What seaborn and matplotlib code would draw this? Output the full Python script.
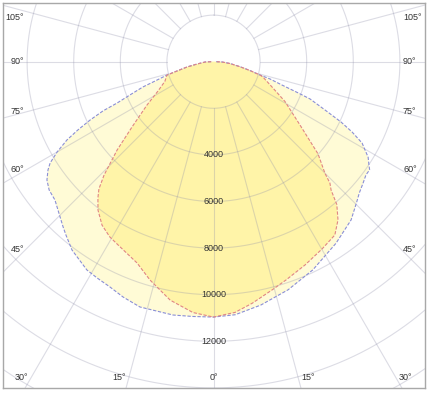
import numpy as np
import pandas as pd
import matplotlib
matplotlib.use("Agg")
import matplotlib.pyplot as plt
import seaborn as sns

# ---- data (angle in degrees from nadir, intensity) ----
outer_left_ang = [0, 4.6, 9.1, 16.7, 21.0, 24.7, 28.3, 31.3, 34.6, 36.9, 40.4, 42.3, 46.4, 48.9,
                  52.0, 54.6, 56.8, 58.2, 60.0, 61.9, 63.3, 64.7, 66.0, 66.8, 68.3, 70.3, 71.7,
                  74.0, 75.7, 78.7, 82.0, 88.0, 90.0]
outer_left_val = [10960, 10970, 11010, 10990, 10820, 10640, 10540, 10460, 10240, 10110, 9770,
                  9590, 9220, 9030, 8950, 8770, 8490, 8250, 7750, 7130, 6510, 5860, 5190, 4500,
                  3860, 3220, 2640, 2080, 1620, 1160, 710, 360, 100]
outer_right_ang = [0, 4.9, 11.0, 18.1, 25.5, 34.0, 41.0, 45.4, 48.0, 50.9, 53.4, 55.3, 56.4,
                   58.3, 61.3, 63.1, 64.7, 66.6, 68.9, 69.8, 71.2, 73.0, 74.0, 76.4, 79.3, 83.8,
                   88.0, 90.0]
outer_right_val = [10960, 10900, 10640, 10300, 9900, 9400, 9000, 8620, 8420, 8270, 8150, 8150,
                   8010, 7800, 7270, 6670, 6050, 5210, 4440, 3850, 3100, 2540, 2080, 1610, 1160,
                   710, 370, 100]
inner_left_ang = [0, 4.7, 10.3, 16.2, 20.8, 26.8, 30.6, 34.3, 37.9, 40.3, 42.0, 44.0, 47.5,
                  51.3, 56.9, 62.2, 68.0, 74.0, 75.7, 78.7, 82.0, 88.0, 90.0]
inner_left_val = [10960, 10800, 10400, 9760, 9240, 8900, 8740, 8490, 8070, 7670, 7350, 6760,
                  5610, 4480, 3410, 2690, 2250, 2080, 1620, 1160, 710, 360, 100]
inner_right_ang = [0, 2.1, 4.9, 9.1, 14.6, 18.4, 24.2, 30.1, 35.0, 38.2, 40.8, 42.5, 43.8,
                   45.0, 48.6, 53.8, 60.9, 66.5, 72.8, 74.0, 76.4, 79.3, 83.8, 88.0, 90.0]
inner_right_val = [10960, 10880, 10800, 10500, 10100, 9870, 9570, 9290, 9080, 8640, 8100, 7470,
                   7220, 6760, 5980, 4600, 3510, 2750, 2220, 2080, 1610, 1160, 710, 370, 100]

ring_values = [2000, 4000, 6000, 8000, 10000, 12000, 14000, 16000, 18000, 20000]
ring_labels = ["4000", "6000", "8000", "10000", "12000"]
spoke_angles = list(range(0, 360, 15))
side_labels = [45, 60, 75, 90, 105]
bottom_labels = [0, 15, 30]

sns.set_theme(style="white")
plt.rcParams["font.family"] = ["Liberation Sans", "DejaVu Sans"]


def to_xy(la, lv, ra, rv):
    la, lv = np.radians(np.array(la, float)), np.array(lv, float)
    ra, rv = np.radians(np.array(ra, float)), np.array(rv, float)
    xl, yl = -lv * np.sin(la), -lv * np.cos(la)
    xr, yr = rv * np.sin(ra), -rv * np.cos(ra)
    x = np.concatenate([xl[::-1], xr[1:]])
    y = np.concatenate([yl[::-1], yr[1:]])
    return x, y


xo, yo = to_xy(outer_left_ang, outer_left_val, outer_right_ang, outer_right_val)
xi, yi = to_xy(inner_left_ang, inner_left_val, inner_right_ang, inner_right_val)
df = pd.concat([
    pd.DataFrame({"x": xo, "y": yo, "curve": "outer"}),
    pd.DataFrame({"x": xi, "y": yi, "curve": "inner"}),
], ignore_index=True)

W, H = 430, 398
fig = plt.figure(figsize=(W / 100, H / 100), dpi=100)
ax = fig.add_axes([3 / W, 10 / H, 422 / W, 385 / H])

s = 0.0233  # px per unit
cx, cy = 213.5, 61.7
ax.set_xlim((3 - cx) / s, (425 - cx) / s)
ax.set_ylim(-(388 - cy) / s, (cy - 3) / s)

# fills
ax.fill(xo, yo, color="#fffbd6", zorder=1, lw=0)
ax.fill(xi, yi, color="#fff4a8", zorder=1.1, lw=0)

# grid
t = np.linspace(0, 2 * np.pi, 721)
gkw = dict(color="#8c8ca8", alpha=0.3, lw=0.8, zorder=2)
for R in ring_values:
    ax.plot(R * np.sin(t), R * np.cos(t), **gkw)
for a in spoke_angles:
    ar = np.radians(a)
    ax.plot([2000 * np.sin(ar), 20000 * np.sin(ar)],
            [-2000 * np.cos(ar), -20000 * np.cos(ar)], **gkw)

# curve edges
sns.lineplot(data=df, x="x", y="y", hue="curve", style="curve", sort=False, estimator=None,
             palette={"outer": "#8a8fd6", "inner": "#e08585"},
             dashes={"outer": (3, 1.5), "inner": (3, 1.5)},
             lw=0.8, legend=False, ax=ax, zorder=3)

txt = dict(fontsize=6.5, color="#333333", zorder=4)
for lab in ring_labels:
    ax.text(0, -float(lab), lab, ha="center", va="center", **txt)

X0 = 187.5 / s
for a in side_labels:
    ar = np.radians(a)
    y = -X0 * np.cos(ar) / np.sin(ar)
    y = min(y, (cy - 17) / s)
    ax.text(-X0 - 2 / s, y, f"{a}°", ha="right", va="center", **txt)
    ax.text(X0 + 2 / s, y, f"{a}°", ha="left", va="center", **txt)

Y0 = (378 - cy) / s
for a in bottom_labels:
    x = Y0 * np.tan(np.radians(a))
    if a == 0:
        ax.text(0, -Y0, "0°", ha="center", va="center", **txt)
    else:
        ax.text(-x - 3 / s, -Y0, f"{a}°", ha="right", va="center", **txt)
        ax.text(x + 3 / s, -Y0, f"{a}°", ha="left", va="center", **txt)

ax.set_xticks([])
ax.set_yticks([])
ax.set_xlabel("")
ax.set_ylabel("")
for sp in ax.spines.values():
    sp.set_color("#a8a8a8")
    sp.set_linewidth(1.0)
    sp.set_visible(True)

fig.savefig("out.png", dpi=100)
